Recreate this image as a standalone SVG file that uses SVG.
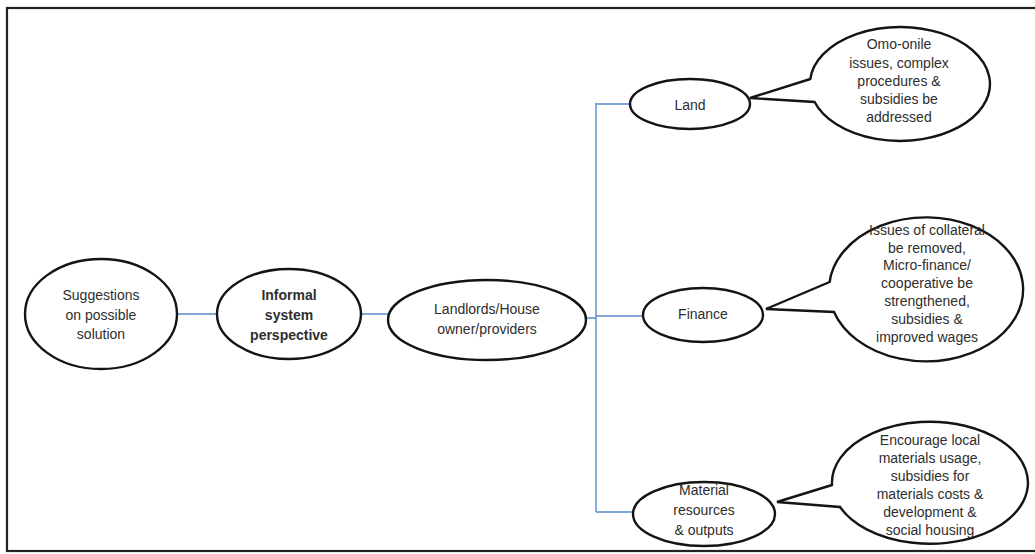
<svg xmlns="http://www.w3.org/2000/svg" width="1035" height="554" viewBox="0 0 1035 554">
<style>
.n{fill:#fff;stroke:#141414;stroke-width:2.4}
.t{font-family:"Liberation Sans",Arial,sans-serif;font-size:14px;fill:#2e2e2e;text-anchor:middle;dominant-baseline:central}
.b{font-weight:bold}
.c{fill:none;stroke:#5a8ccc;stroke-width:1.4}
</style>
<rect x="7" y="8" width="1040" height="543" fill="#fff" stroke="#222" stroke-width="2.2"/>
<g id="connectors">
<path class="c" d="M177 314H217M362 314H388M586 318H596M596 103V512M596 104H630M596 316H643M596 512H633"/>
</g>
<g id="suggestions">
<ellipse class="n" cx="101" cy="314" rx="76" ry="55"/>
<text class="t" x="101" y="295">Suggestions</text>
<text class="t" x="101" y="315">on possible</text>
<text class="t" x="101" y="334">solution</text>
</g>
<g id="informal">
<ellipse class="n" cx="289" cy="314" rx="72" ry="45"/>
<text class="t b" x="289" y="295">Informal</text>
<text class="t b" x="289" y="315">system</text>
<text class="t b" x="289" y="335">perspective</text>
</g>
<g id="landlords">
<ellipse class="n" cx="487" cy="320" rx="99" ry="40"/>
<text class="t" x="487" y="309">Landlords/House</text>
<text class="t" x="487" y="329">owner/providers</text>
</g>
<g id="land">
<ellipse class="n" cx="690" cy="104" rx="60" ry="25"/>
<text class="t" x="690" y="105">Land</text>
</g>
<g id="land-note">
<path class="n" d="M810.3 79L750 98L814.6 102A90 57 0 1 0 810.3 79Z"/>
<text class="t" x="899" y="44">Omo-onile</text>
<text class="t" x="899" y="63">issues, complex</text>
<text class="t" x="899" y="81">procedures &amp;</text>
<text class="t" x="899" y="99">subsidies be</text>
<text class="t" x="899" y="117">addressed</text>
</g>
<g id="finance">
<ellipse class="n" cx="703" cy="315" rx="60" ry="27"/>
<text class="t" x="703" y="314">Finance</text>
</g>
<g id="finance-note">
<path class="n" d="M829.6 282L766 309L834 312A97 72 0 1 0 829.6 282Z"/>
<text class="t" x="927" y="230">Issues of collateral</text>
<text class="t" x="927" y="248">be removed,</text>
<text class="t" x="927" y="265">Micro-finance/</text>
<text class="t" x="927" y="283">cooperative be</text>
<text class="t" x="927" y="301">strengthened,</text>
<text class="t" x="927" y="319">subsidies &amp;</text>
<text class="t" x="927" y="337">improved wages</text>
</g>
<g id="material">
<ellipse class="n" cx="704" cy="514" rx="71" ry="32"/>
<text class="t" x="704" y="490">Material</text>
<text class="t" x="704" y="510">resources</text>
<text class="t" x="704" y="530">&amp; outputs</text>
</g>
<g id="material-note">
<path class="n" d="M832 485L777 502L840 507A98 61 0 1 0 832 485Z"/>
<text class="t" x="930" y="440">Encourage local</text>
<text class="t" x="930" y="458">materials usage,</text>
<text class="t" x="930" y="476">subsidies for</text>
<text class="t" x="930" y="494">materials costs &amp;</text>
<text class="t" x="930" y="512">development &amp;</text>
<text class="t" x="930" y="530">social housing</text>
</g>
</svg>
